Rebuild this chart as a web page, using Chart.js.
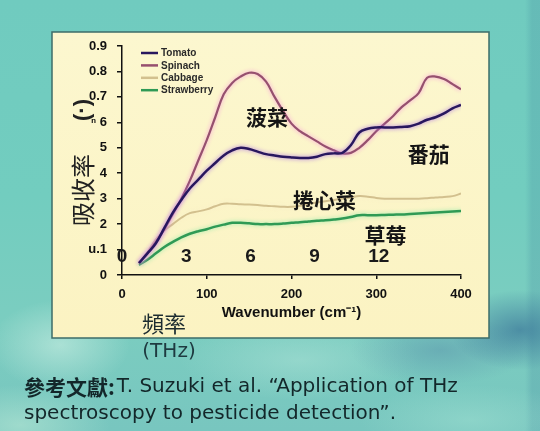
<!DOCTYPE html>
<html>
<head>
<meta charset="utf-8">
<script src="https://cdn.jsdelivr.net/npm/chart.js@4.4.0/dist/chart.umd.min.js"></script>
<style>
html, body { margin: 0; padding: 0; }
body {
  width: 540px; height: 431px; overflow: hidden; position: relative;
  background:
    radial-gradient(ellipse 70px 40px at 520px 330px, rgba(45,100,145,0.6), rgba(45,100,145,0)),
    radial-gradient(ellipse 90px 35px at 440px 350px, rgba(80,130,165,0.4), rgba(80,130,165,0)),
    radial-gradient(ellipse 70px 45px at 60px 345px, rgba(210,242,230,0.55), rgba(210,242,230,0)),
    radial-gradient(ellipse 120px 40px at 300px 360px, rgba(180,230,218,0.45), rgba(180,230,218,0)),
    radial-gradient(ellipse 90px 40px at 20px 425px, rgba(190,235,215,0.55), rgba(190,235,215,0)),
    radial-gradient(ellipse 110px 35px at 470px 420px, rgba(160,225,210,0.5), rgba(160,225,210,0)),
    linear-gradient(90deg, rgba(0,0,0,0) 525px, rgba(70,140,160,0.25) 532px),
    linear-gradient(180deg, #70cbbf 0%, #72cdbf 45%, #7bcdc0 75%, #78c6bf 100%);
}
canvas { position: absolute; left: 0; top: 0; }
</style>
</head>
<body>
<canvas id="myChart" width="540" height="431"></canvas>
<script>
// wavenumber (cm-1) and absorbance
const wavenumbers = [20,30,40,50,60,70,80,90,100,110,120,130,140,150,160,170,180,190,200,210,
  220,230,240,250,260,270,280,290,300,310,320,330,340,350,360,370,380,390,400];
const tomato = [0.047,0.085,0.125,0.185,0.245,0.295,0.34,0.375,0.41,0.44,0.47,0.49,0.50,0.495,0.485,0.475,0.47,0.465,0.462,0.46,
  0.46,0.465,0.475,0.478,0.48,0.51,0.56,0.575,0.58,0.58,0.58,0.582,0.585,0.595,0.61,0.62,0.635,0.655,0.668];
const spinach = [0.047,0.085,0.13,0.18,0.24,0.30,0.37,0.45,0.53,0.62,0.71,0.755,0.78,0.795,0.79,0.76,0.70,0.645,0.595,0.565,
  0.545,0.525,0.505,0.49,0.478,0.48,0.50,0.53,0.565,0.595,0.625,0.66,0.686,0.715,0.775,0.78,0.77,0.75,0.73];
const cabbage = [0.047,0.09,0.14,0.175,0.20,0.225,0.243,0.25,0.258,0.27,0.28,0.28,0.278,0.277,0.275,0.272,0.27,0.268,0.268,0.272,
  0.28,0.285,0.29,0.295,0.30,0.305,0.31,0.308,0.303,0.30,0.30,0.30,0.30,0.30,0.302,0.305,0.307,0.31,0.32];
const strawberry = [0.04,0.06,0.085,0.11,0.13,0.148,0.162,0.172,0.18,0.19,0.198,0.205,0.205,0.203,0.20,0.20,0.20,0.202,0.205,0.207,
  0.21,0.213,0.215,0.218,0.222,0.228,0.235,0.235,0.235,0.236,0.237,0.238,0.24,0.242,0.244,0.246,0.248,0.25,0.252];

const seriesNames = ['Tomato', 'Spinach', 'Cabbage', 'Strawberry'];
const seriesNamesZh = ['番茄', '菠菜', '捲心菜', '草莓'];
const xTicks = [0, 100, 200, 300, 400];
const yTickLabels = ['0', 'u.1', '2', '3', '4', '5', '\u207f 6', '0.7', '0.8', '0.9'];
const thzTicks = [0, 3, 6, 9, 12];

// where the Chinese names sit, in data units
const zhAnchors = [[362, 0.476], [171, 0.621], [239, 0.295], [311, 0.157]];

function pts(arr) {
  return wavenumbers.map((w, i) => ({ x: w, y: arr[i] }));
}

const glow = {
  id: 'glow',
  beforeDatasetDraw(chart, args) {
    const ds = chart.data.datasets[args.index];
    chart.ctx.save();
    chart.ctx.shadowColor = ds.glowColor;
    chart.ctx.shadowBlur = 4;
  },
  afterDatasetDraw(chart) {
    chart.ctx.restore();
  }
};

const panel = {
  id: 'panel',
  beforeDraw(chart) {
    const ctx = chart.ctx;
    ctx.save();
    let g = ctx.createLinearGradient(0, 32, 0, 338);
    g.addColorStop(0, '#fcf7cf');
    g.addColorStop(1, '#fbf3c2');
    ctx.fillStyle = g;
    ctx.fillRect(52, 32, 437, 306);
    ctx.strokeStyle = '#3d6d69';
    ctx.lineWidth = 1.5;
    ctx.strokeRect(52, 32, 437, 306);
    ctx.restore();
  },
  afterDraw(chart) {
    const ctx = chart.ctx;
    const xs = chart.scales.x, ys = chart.scales.y, ts = chart.scales.thz;
    ctx.save();

    // legend
    chart.data.datasets.forEach((ds, i) => {
      const y = 53 + i * 12.4;
      ctx.strokeStyle = ds.borderColor;
      ctx.lineWidth = 2.5;
      ctx.beginPath();
      ctx.moveTo(141, y);
      ctx.lineTo(158, y);
      ctx.stroke();
      ctx.fillStyle = '#2a2a2a';
      ctx.font = 'bold 10px "Liberation Sans"';
      ctx.textAlign = 'left';
      ctx.textBaseline = 'middle';
      ctx.fillText(ds.label, 161, y + 0.5);
    });

    // THz labels
    ctx.fillStyle = '#1a1a1a';
    ctx.font = 'bold 19px "Liberation Sans"';
    ctx.textAlign = 'center';
    ctx.textBaseline = 'middle';
    thzTicks.forEach(t => {
      ctx.fillText(String(t), ts.getPixelForValue(t), chart.chartArea.bottom - 18);
    });

    // Chinese series names
    ctx.font = 'bold 21px "Noto Sans CJK TC"';
    ctx.fillStyle = '#151515';
    seriesNamesZh.forEach((s, i) => {
      ctx.fillText(s, xs.getPixelForValue(zhAnchors[i][0]), ys.getPixelForValue(zhAnchors[i][1]));
    });

    // rotated y title
    ctx.save();
    ctx.translate(83, 190);
    ctx.rotate(-Math.PI / 2);
    ctx.font = '24px "Noto Sans CJK TC"';
    ctx.fillStyle = '#222';
    ctx.fillText('吸收率', 0, 0);
    ctx.font = 'bold 22px "Liberation Sans"';
    ctx.fillText('(·)', 80, 0);
    ctx.restore();

    // frequency label
    ctx.fillStyle = '#1c2c30';
    ctx.font = '22px "Noto Sans CJK TC"';
    ctx.fillText('頻率', 164, 324);
    ctx.fillStyle = '#1e3a40';
    ctx.font = '20px "DejaVu Sans"';
    ctx.fillText('(THz)', 169, 352);

    // reference
    ctx.textAlign = 'left';
    ctx.fillStyle = '#13272a';
    ctx.font = 'bold 21px "Noto Sans CJK TC"';
    const head = '參考文獻:';
    ctx.fillText(head, 24, 387);
    const hw = ctx.measureText(head).width;
    ctx.font = '20px "DejaVu Sans"';
    ctx.fillText('T. Suzuki et al. \u201cApplication of THz', 26 + hw, 387);
    ctx.fillText('spectroscopy to pesticide detection\u201d.', 24, 414);

    ctx.restore();
  }
};

const ctx = document.getElementById('myChart').getContext('2d');
const myChart = new Chart(ctx, {
  type: 'line',
  data: {
    datasets: [
      { label: seriesNames[0], data: pts(tomato), borderColor: '#28175e', glowColor: 'rgba(170,110,230,0.9)', borderWidth: 2.5 },
      { label: seriesNames[1], data: pts(spinach), borderColor: '#96506e', glowColor: 'rgba(250,150,220,0.95)', borderWidth: 2.2 },
      { label: seriesNames[2], data: pts(cabbage), borderColor: '#d2c08e', glowColor: 'rgba(250,240,200,0.9)', borderWidth: 2 },
      { label: seriesNames[3], data: pts(strawberry), borderColor: '#2f9a55', glowColor: 'rgba(150,235,170,0.9)', borderWidth: 2.5 }
    ]
  },
  options: {
    responsive: false,
    animation: false,
    layout: { padding: { left: 0, right: 79, top: 46, bottom: 106 } },
    elements: { point: { radius: 0 }, line: { tension: 0.4, fill: false } },
    plugins: { legend: { display: false }, tooltip: { enabled: false } },
    scales: {
      x: {
        type: 'linear', min: 0, max: 400,
        afterBuildTicks: s => { s.ticks = xTicks.map(v => ({ value: v })); },
        afterFit: s => { s.height = 50; },
        ticks: { color: '#111', font: { family: 'Liberation Sans', weight: 'bold', size: 13 }, padding: 8, maxRotation: 0 },
        grid: { drawOnChartArea: false, tickLength: 4, color: '#111', lineWidth: 1.5 },
        border: { color: '#111', width: 1.5 },
        title: { display: true, text: 'Wavenumber (cm\u207b\u00b9)', color: '#111',
          font: { family: 'Liberation Sans', weight: 'bold', size: 15 }, padding: { top: 0, bottom: 3 } }
      },
      thz: { type: 'linear', axis: 'x', display: false, min: 0, max: 15.84 },
      y: {
        min: 0, max: 0.9,
        afterBuildTicks: s => { s.ticks = yTickLabels.map((l, i) => ({ value: i / 10 })); },
        afterFit: s => { s.width = 122; },
        ticks: { color: '#111', font: { family: 'Liberation Sans', weight: 'bold', size: 13 }, padding: 10,
          callback: (v, i) => yTickLabels[i] },
        grid: { drawOnChartArea: false, tickLength: 5, color: '#111', lineWidth: 1.5 },
        border: { color: '#111', width: 1.5 }
      }
    }
  },
  plugins: [panel, glow]
});
</script>
</body>
</html>
